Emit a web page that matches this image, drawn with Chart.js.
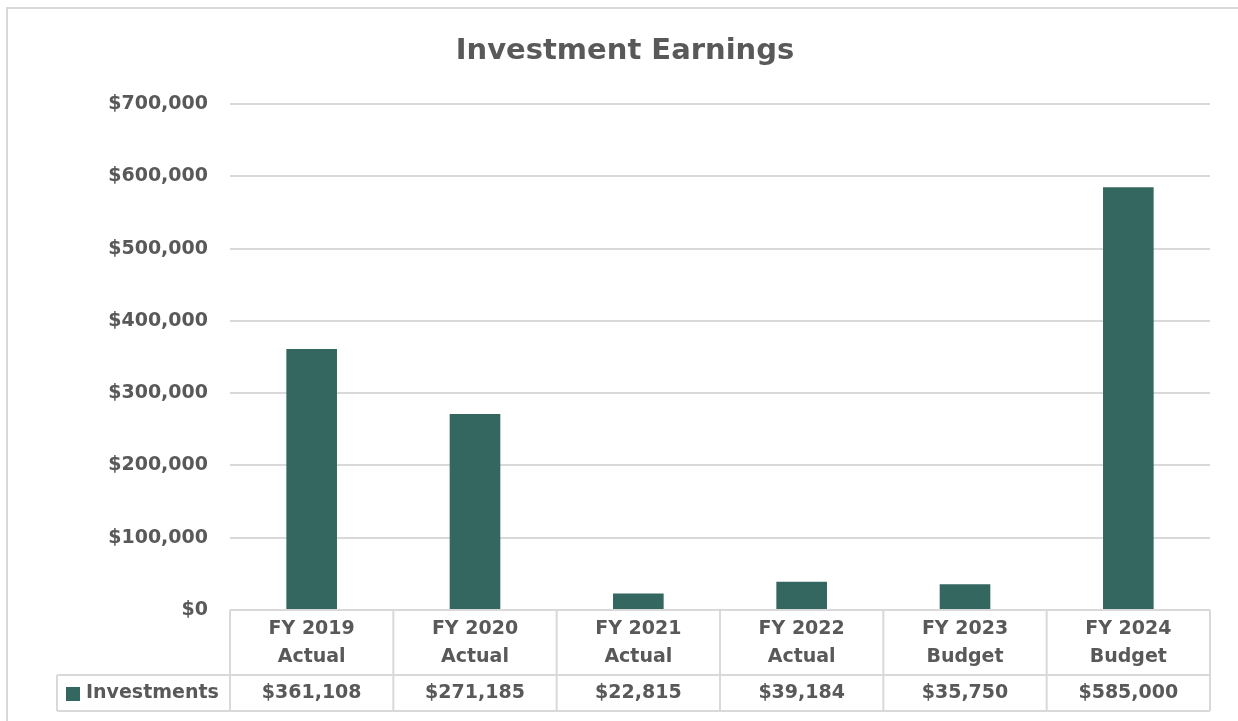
<!DOCTYPE html>
<html>
<head>
<meta charset="utf-8">
<script src="https://cdn.jsdelivr.net/npm/chart.js@4.4.1/dist/chart.umd.min.js"></script>
<style>
  html, body { margin: 0; padding: 0; background: #fff; }
  #wrap { width: 1238px; height: 721px; position: relative; }
</style>
</head>
<body>
<div id="wrap"><canvas id="chart" width="1238" height="721"></canvas></div>
<script>
const years = ['FY 2019', 'FY 2020', 'FY 2021', 'FY 2022', 'FY 2023', 'FY 2024'];
const kinds = ['Actual', 'Actual', 'Actual', 'Actual', 'Budget', 'Budget'];
const investments = [361108, 271185, 22815, 39184, 35750, 585000];
const seriesName = 'Investments';
const chartTitle = 'Investment Earnings';

const FONT = '"DejaVu Sans", sans-serif';
const GREY = '#595959';
const LINE = '#d9d9d9';
const BAR = '#33675f';

const money = v => '$' + v.toLocaleString('en-US');

// outer frame, title and the data table under the plot
const dataTable = {
  id: 'dataTable',
  beforeDraw(chart) {
    const c = chart.ctx;
    c.save();
    c.strokeStyle = LINE;
    c.lineWidth = 2;
    c.beginPath();
    c.moveTo(7, 721);
    c.lineTo(7, 8);
    c.lineTo(1238, 8);
    c.stroke();

    c.fillStyle = GREY;
    c.font = 'bold 29px ' + FONT;
    c.textAlign = 'center';
    c.textBaseline = 'middle';
    c.fillText(chartTitle, 625, 51);
    c.restore();
  },
  afterDraw(chart) {
    const c = chart.ctx;
    const x = chart.scales.x;
    const area = chart.chartArea;
    const top = area.bottom, mid = 675, bot = 711, legL = 57;
    const half = (x.getPixelForValue(1) - x.getPixelForValue(0)) / 2;

    c.save();
    c.strokeStyle = LINE;
    c.lineWidth = 2;
    c.beginPath();
    c.moveTo(area.left, top); c.lineTo(area.right, top);
    c.moveTo(legL, mid); c.lineTo(area.right, mid);
    c.moveTo(legL, bot); c.lineTo(area.right, bot);
    c.moveTo(legL, mid); c.lineTo(legL, bot);
    years.forEach((_, i) => {
      const l = x.getPixelForValue(i) - half;
      c.moveTo(l, top); c.lineTo(l, bot);
    });
    c.moveTo(area.right, top); c.lineTo(area.right, bot);
    c.stroke();

    c.fillStyle = GREY;
    c.font = 'bold 19px ' + FONT;
    c.textAlign = 'center';
    c.textBaseline = 'middle';
    years.forEach((y, i) => {
      const cx = x.getPixelForValue(i);
      c.fillText(y, cx, 629);
      c.fillText(kinds[i], cx, 657);
      c.fillText(money(investments[i]), cx, 693);
    });

    c.fillStyle = BAR;
    c.fillRect(66, 687, 14, 14);
    c.fillStyle = GREY;
    c.textAlign = 'left';
    c.fillText(seriesName, 86, 693);
    c.restore();
  }
};

new Chart(document.getElementById('chart'), {
  type: 'bar',
  data: {
    labels: years,
    datasets: [{
      label: seriesName,
      data: investments,
      backgroundColor: BAR,
      borderWidth: 0,
      barPercentage: 0.62,
      categoryPercentage: 0.5
    }]
  },
  options: {
    responsive: false,
    animation: false,
    layout: { padding: { left: 0, right: 28, top: 104, bottom: 0 } },
    plugins: {
      legend: { display: false },
      tooltip: { enabled: false },
      title: { display: false }
    },
    scales: {
      x: {
        grid: { display: false },
        border: { display: false },
        ticks: { display: false },
        afterFit(s) { s.height = 111; }
      },
      y: {
        min: 0,
        max: 700000,
        ticks: {
          stepSize: 100000,
          color: GREY,
          padding: 22,
          font: { family: FONT, size: 19, weight: 'bold' },
          callback: v => money(v)
        },
        grid: { color: LINE, lineWidth: 2, drawTicks: false },
        border: { display: false },
        afterFit(s) { s.width = 230; }
      }
    }
  },
  plugins: [dataTable]
});
</script>
</body>
</html>
